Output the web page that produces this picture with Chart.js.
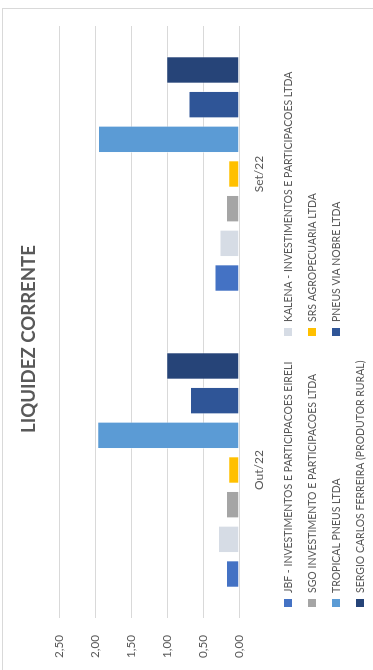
<!DOCTYPE html>
<html>
<head>
<meta charset="utf-8">
<script src="https://cdn.jsdelivr.net/npm/chart.js@4.4.1/dist/chart.umd.min.js"></script>
<style>
  html, body { margin: 0; padding: 0; background: #ffffff; overflow: hidden; }
  body { width: 373px; height: 670px; position: relative; }
  #wrap {
    position: absolute; left: 0; top: 0;
    width: 670px; height: 373px;
    transform-origin: 0 0;
    transform: translateY(670px) rotate(-90deg);
  }
  canvas { display: block; }
</style>
</head>
<body>
<div id="wrap"><canvas id="c" width="670" height="373"></canvas></div>
<script>
// ---- data ----
const title = "LIQUIDEZ CORRENTE";
const categories = ["Out/22", "Set/22"];
const seriesNames = [
  "JBF - INVESTIMENTOS E PARTICIPACOES EIRELI",
  "KALENA - INVESTIMENTOS E PARTICIPACOES LTDA",
  "SGO INVESTIMENTO E PARTICIPACOES LTDA",
  "SRS AGROPECUARIA LTDA",
  "TROPICAL PNEUS LTDA",
  "PNEUS VIA NOBRE LTDA",
  "SERGIO CARLOS FERREIRA (PRODUTOR RURAL)"
];
const jbf      = [0.18, 0.34];
const kalena   = [0.29, 0.27];
const sgo      = [0.18, 0.18];
const srs      = [0.15, 0.15];
const tropical = [1.97, 1.96];
const viaNobre = [0.68, 0.70];
const sergio   = [1.01, 1.01];
const seriesValues = [jbf, kalena, sgo, srs, tropical, viaNobre, sergio];
const seriesColors = ["#4472C4", "#D6DCE5", "#A5A5A5", "#FFC000", "#5B9BD5", "#2F5597", "#264478"];
const yTicks = [0, 0.5, 1, 1.5, 2, 2.5];

const FONT = "Lato, 'Open Sans', sans-serif";
const TEXT = "#595959";

// pick a font size so that a sample string has the width seen in the reference
const mctx = document.createElement("canvas").getContext("2d");
function fitSize(text, weight, target) {
  mctx.font = weight + " 100px " + FONT;
  const w = mctx.measureText(text).width;
  return Math.round(100 * target / w * 10) / 10;
}
const titleSize  = fitSize(title, "bold", 188);
const legendSize = fitSize(seriesNames[0], "normal", 232);
const xTickSize  = fitSize(categories[0], "normal", 40);
const yTickSize  = fitSize("2,50", "normal", 23);

const decoPlugin = {
  id: "deco",
  afterDraw(chart) {
    const ctx = chart.ctx;
    ctx.save();
    // chart border
    ctx.strokeStyle = "#D9D9D9";
    ctx.lineWidth = 1;
    ctx.strokeRect(-5, 2.5, 666.5, 420);
    // title
    ctx.fillStyle = TEXT;
    ctx.font = "bold " + titleSize + "px " + FONT;
    ctx.textAlign = "center";
    ctx.textBaseline = "middle";
    ctx.fillText(title, 331, 29);
    // legend
    ctx.font = legendSize + "px " + FONT;
    ctx.textAlign = "left";
    chart.data.datasets.forEach((ds, i) => {
      const col = i % 2, row = Math.floor(i / 2);
      const mx = col === 0 ? 63 : 334;
      const my = 288 + row * 24;
      ctx.fillStyle = ds.backgroundColor;
      ctx.fillRect(mx, my - 4, 8, 8);
      ctx.fillStyle = TEXT;
      ctx.fillText(ds.label, mx + 14, my + 0.5);
    });
    ctx.restore();
  }
};

new Chart(document.getElementById("c"), {
  type: "bar",
  data: {
    labels: categories,
    datasets: seriesNames.map((n, i) => ({
      label: n,
      data: seriesValues[i],
      backgroundColor: seriesColors[i],
      borderColor: "rgba(255,255,255,0.45)",
      borderWidth: 1,
      categoryPercentage: 0.82,
      barPercentage: 0.79
    }))
  },
  options: {
    responsive: false,
    devicePixelRatio: 1,
    animation: false,
    layout: { padding: { left: 0, right: 26, top: 59, bottom: 0 } },
    plugins: { legend: { display: false }, title: { display: false }, tooltip: { enabled: false } },
    scales: {
      x: {
        grid: { display: false },
        border: { display: false },
        ticks: { color: TEXT, font: { family: FONT, size: xTickSize }, padding: 5 },
        afterFit(s) { s.height = 134; }
      },
      y: {
        min: 0, max: 2.5,
        afterBuildTicks(s) { s.ticks = yTicks.map(v => ({ value: v })); },
        grid: { color: "#D9D9D9", lineWidth: 1, drawTicks: false },
        border: { display: false },
        ticks: {
          color: TEXT, font: { family: FONT, size: yTickSize }, padding: 17,
          callback: v => v.toFixed(2).replace(".", ",")
        },
        afterFit(s) { s.width = 52; }
      }
    }
  },
  plugins: [decoPlugin]
});
</script>
</body>
</html>
